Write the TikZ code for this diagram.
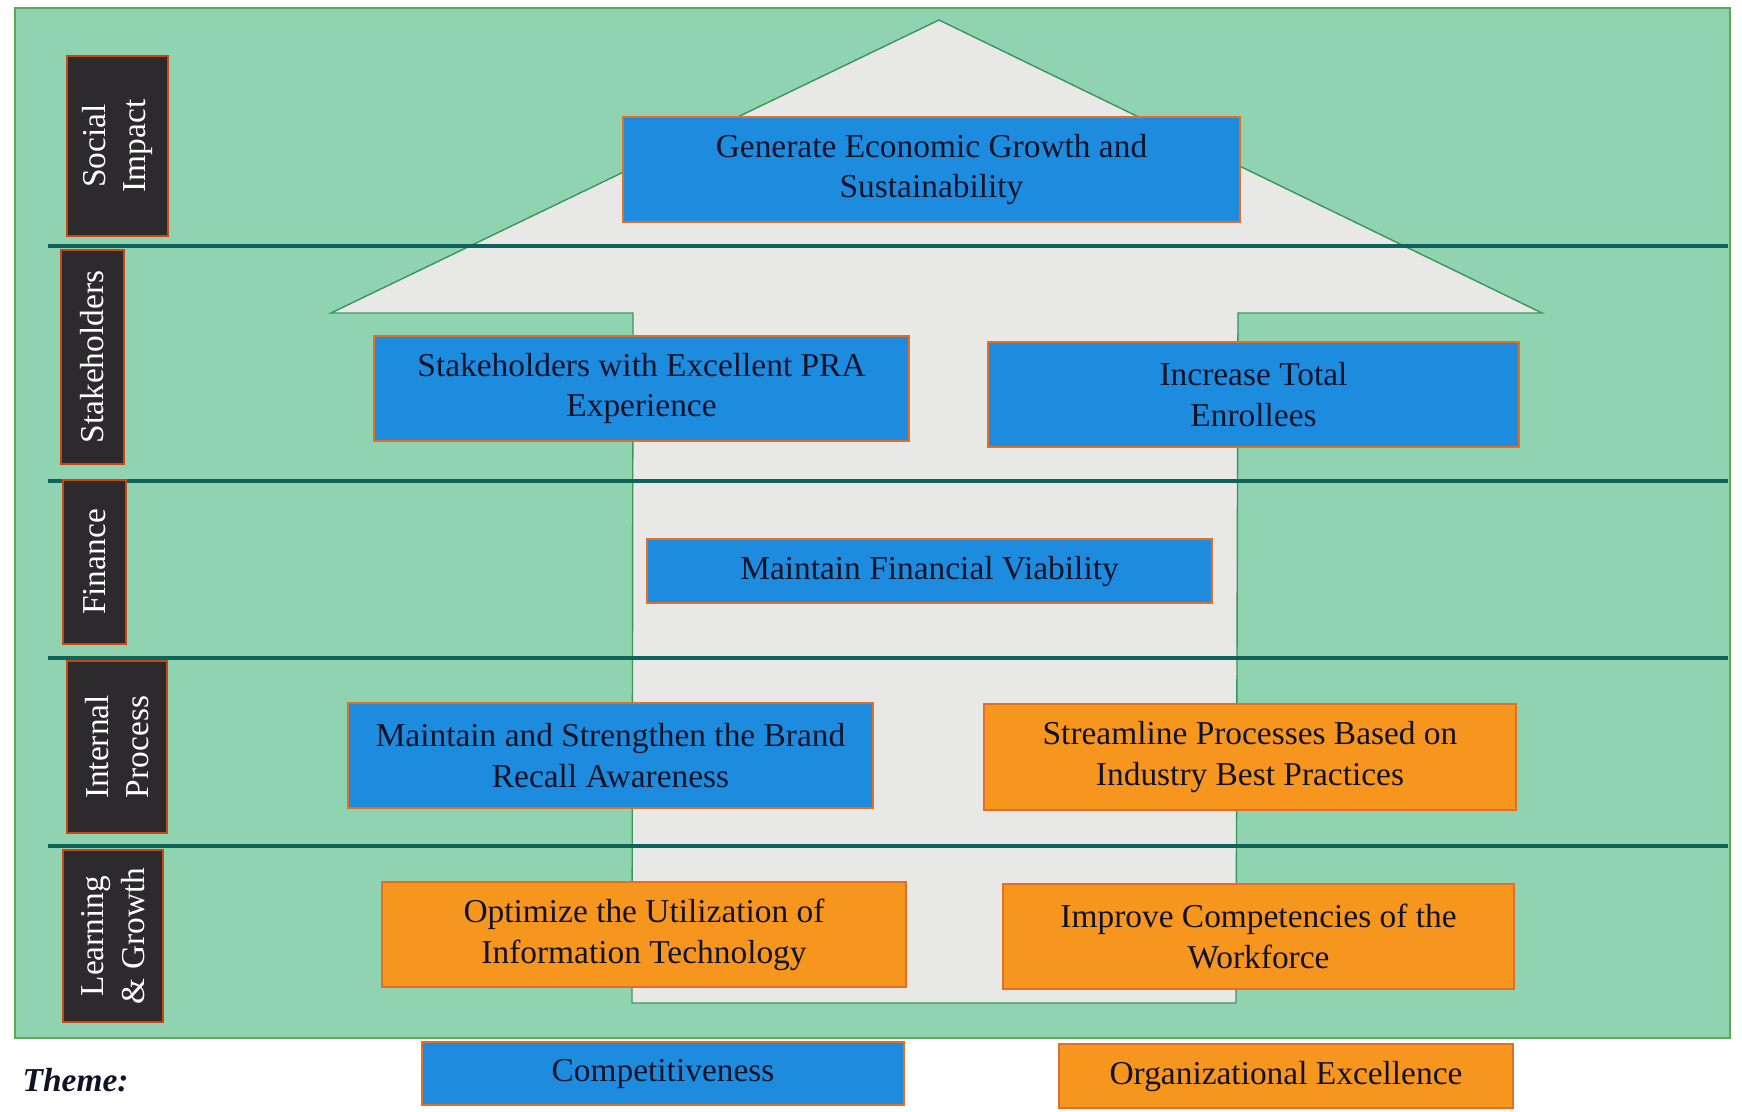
\documentclass[tikz,border=0pt]{standalone}
\usepackage{fontspec}
\setmainfont{Liberation Serif}
\usepackage{tikz}
\definecolor{mapgreen}{RGB}{143,211,176}
\definecolor{mapedge}{RGB}{92,168,84}
\definecolor{arrowgrey}{RGB}{232,232,230}
\definecolor{arrowedge}{RGB}{60,150,90}
\definecolor{dividerteal}{RGB}{14,100,90}
\definecolor{goalblue}{RGB}{30,140,222}
\definecolor{goalorange}{RGB}{247,150,30}
\definecolor{boxedge}{RGB}{226,110,40}
\definecolor{tagblack}{RGB}{44,42,44}
\definecolor{tagedge}{RGB}{200,70,20}
\definecolor{inkdark}{RGB}{16,18,40}
\tikzset{
    goal/.style={draw=boxedge, line width=0.6pt, text=inkdark, align=center, inner sep=0pt,
        font=\fontsize{9.5}{11.6}\selectfont},
    goal blue/.style={goal, fill=goalblue},
    goal orange/.style={goal, fill=goalorange},
    perspective/.style={draw=tagedge, line width=0.8pt, fill=tagblack, text=white, rotate=90,
        align=center, inner sep=0pt, font=\fontsize{9.5}{11.6}\selectfont},
    divider/.style={dividerteal, line width=1.2pt},
}

\begin{document}
\begin{tikzpicture}[x=0.01cm, y=-0.01cm]
        \useasboundingbox (0,0) rectangle (1742,1111);
        % background and arrow
        \draw[mapedge, line width=0.8pt, fill=mapgreen] (15,8) rectangle (1730,1038);
        \draw[arrowedge, thin, fill=arrowgrey] (939,20) -- (1542,313) -- (1238,313) -- (1236,1003)
            -- (632,1003) -- (633,313) -- (331,313) -- cycle;

        % perspective rows
        \foreach \y in {246,481,658,846}
            \draw[divider] (48,\y) -- (1728,\y);

        \node[perspective, minimum width=1.80cm, minimum height=1.01cm] (social) at (117.5,146) {Social\\Impact};
        \node[perspective, minimum width=2.14cm, minimum height=0.63cm] (stakeholders) at (92.5,357) {Stakeholders};
        \node[perspective, minimum width=1.64cm, minimum height=0.63cm] (finance) at (94.5,562) {Finance};
        \node[perspective, minimum width=1.72cm, minimum height=1.00cm] (internal) at (117,747) {Internal\\Process};
        \node[perspective, minimum width=1.72cm, minimum height=1.00cm] (learning) at (113,936) {Learning\\\& Growth};

        % objectives
        \node[goal blue, minimum width=6.17cm, minimum height=1.05cm] (growth) at (931.5,169.5) {Generate Economic Growth and\\Sustainability};
        \node[goal blue, minimum width=5.35cm, minimum height=1.05cm] (experience) at (641.5,388.5) {Stakeholders with Excellent PRA\\Experience};
        \node[goal blue, minimum width=5.31cm, minimum height=1.05cm] (enrollees) at (1253.5,394.5) {Increase Total\\Enrollees};
        \node[goal blue, minimum width=5.65cm, minimum height=0.64cm] (viability) at (929.5,571) {Maintain Financial Viability};
        \node[goal blue, minimum width=5.25cm, minimum height=1.05cm] (brand) at (610.5,755.5) {Maintain and Strengthen the Brand\\Recall Awareness};
        \node[goal orange, minimum width=5.32cm, minimum height=1.06cm] (processes) at (1250,757) {Streamline Processes Based on\\Industry Best Practices};
        \node[goal orange, minimum width=5.24cm, minimum height=1.05cm] (technology) at (644,934.5) {Optimize the Utilization of\\Information Technology};
        \node[goal orange, minimum width=5.11cm, minimum height=1.05cm] (workforce) at (1258.5,936.5) {Improve Competencies of the\\Workforce};

        % themes
        \node[font=\fontsize{9.5}{11.6}\selectfont\bfseries\itshape, text=inkdark, anchor=west, inner sep=0pt] (theme) at (22,1080) {Theme:};
        \node[goal blue, minimum width=4.82cm, minimum height=0.63cm] (competitiveness) at (663,1073.5) {Competitiveness};
        \node[goal orange, minimum width=4.54cm, minimum height=0.64cm] (excellence) at (1286,1076) {Organizational Excellence};
\end{tikzpicture}
\end{document}
